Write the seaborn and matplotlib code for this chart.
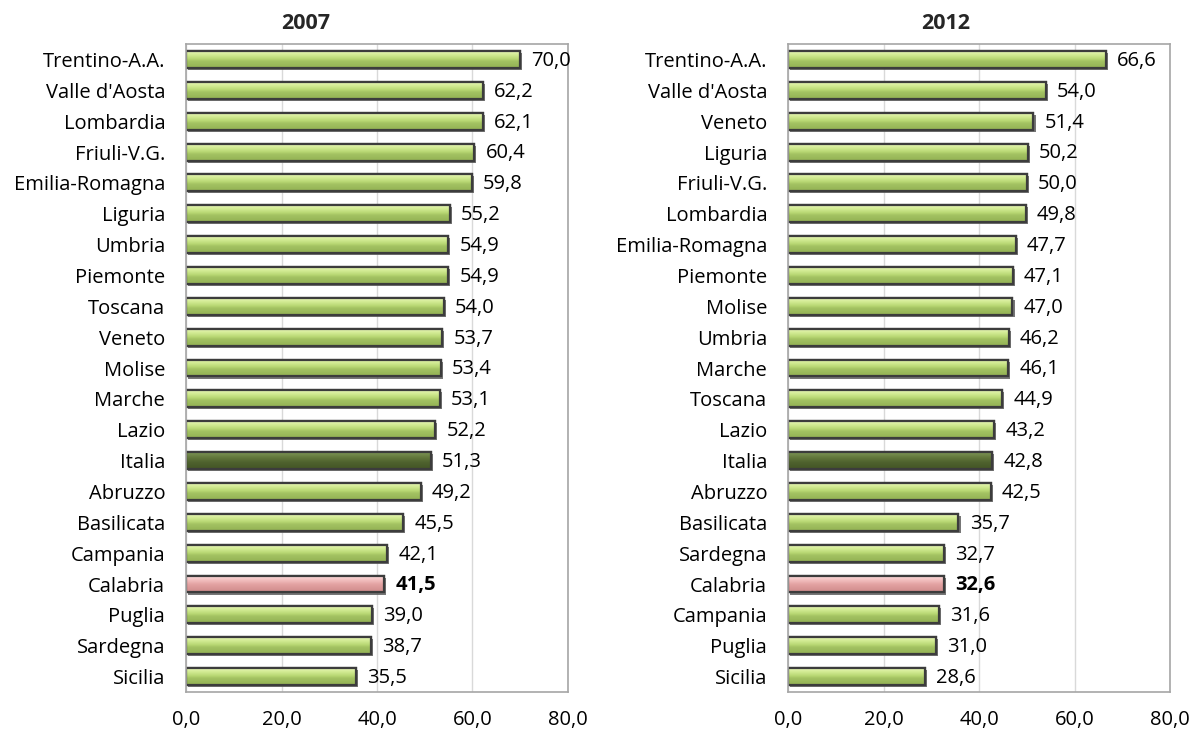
import numpy as np
import pandas as pd
import matplotlib
matplotlib.use("Agg")
import matplotlib.pyplot as plt
import matplotlib.patheffects as pe
from matplotlib.colors import LinearSegmentedColormap
import seaborn as sns

# Regions and values, 2007
regions_2007 = ["Trentino-A.A.", "Valle d'Aosta", "Lombardia", "Friuli-V.G.", "Emilia-Romagna",
                "Liguria", "Umbria", "Piemonte", "Toscana", "Veneto", "Molise", "Marche",
                "Lazio", "Italia", "Abruzzo", "Basilicata", "Campania", "Calabria",
                "Puglia", "Sardegna", "Sicilia"]
values_2007 = [70.0, 62.2, 62.1, 60.4, 59.8, 55.2, 54.9, 54.9, 54.0, 53.7, 53.4, 53.1,
               52.2, 51.3, 49.2, 45.5, 42.1, 41.5, 39.0, 38.7, 35.5]

# Regions and values, 2012
regions_2012 = ["Trentino-A.A.", "Valle d'Aosta", "Veneto", "Liguria", "Friuli-V.G.",
                "Lombardia", "Emilia-Romagna", "Piemonte", "Molise", "Umbria", "Marche",
                "Toscana", "Lazio", "Italia", "Abruzzo", "Basilicata", "Sardegna",
                "Calabria", "Campania", "Puglia", "Sicilia"]
values_2012 = [66.6, 54.0, 51.4, 50.2, 50.0, 49.8, 47.7, 47.1, 47.0, 46.2, 46.1, 44.9,
               43.2, 42.8, 42.5, 35.7, 32.7, 32.6, 31.6, 31.0, 28.6]

years = ["2007", "2012"]
x_ticks = [0, 20, 40, 60, 80]

sns.set_theme(style="white")
plt.rcParams["font.family"] = ["Open Sans", "DejaVu Sans"]
FS = 14.5

# vertical gradients (top -> bottom) for each bar kind
grad_green = LinearSegmentedColormap.from_list(
    "g", [(0.0, "#e6f4b8"), (0.2, "#d4ec95"), (0.45, "#b9d874"), (0.6, "#a3c262"), (1.0, "#93b254")])
grad_dark = LinearSegmentedColormap.from_list(
    "d", [(0.0, "#7e9556"), (0.3, "#64793d"), (0.6, "#4f622e"), (1.0, "#435526")])
grad_pink = LinearSegmentedColormap.from_list(
    "p", [(0.0, "#fde6e6"), (0.25, "#f5c4c4"), (0.55, "#e3a2a2"), (1.0, "#d08b8b")])


def kind_of(name):
    if name == "Italia":
        return "dark"
    if name == "Calabria":
        return "pink"
    return "green"


cmaps = {"green": grad_green, "dark": grad_dark, "pink": grad_pink}

fig = plt.figure(figsize=(11.94, 7.35), dpi=100)
ax_left = fig.add_axes([0.1558, 0.0585, 0.3199, 0.8816])
ax_right = fig.add_axes([0.6600, 0.0585, 0.3199, 0.8816])

grad = np.linspace(0, 1, 64).reshape(-1, 1)

for ax, year, regs, vals in [(ax_left, years[0], regions_2007, values_2007),
                             (ax_right, years[1], regions_2012, values_2012)]:
    df = pd.DataFrame({"region": regs, "value": vals})
    sns.barplot(data=df, x="value", y="region", orient="h", ax=ax,
                color="#a3c262", width=0.55, saturation=1, edgecolor="#3c3c3c",
                linewidth=1.6)
    ax.set_xlim(0, 80)
    ax.set_ylim(len(regs) - 0.5, -0.5)
    for patch, name in zip(ax.patches, regs):
        x0, y0 = patch.get_x(), patch.get_y()
        w, h = patch.get_width(), patch.get_height()
        patch.set_path_effects([pe.SimplePatchShadow(offset=(1.5, -1.5), shadow_rgbFace="#555555",
                                                     alpha=0.8), pe.Normal()])
        im = ax.imshow(grad, cmap=cmaps[kind_of(name)], aspect="auto", origin="upper",
                       extent=(x0, x0 + w, y0 + h, y0), zorder=patch.get_zorder() + 0.1,
                       interpolation="bicubic")
        im.set_clip_path(patch)
        # outline redrawn above the gradient
        ax.add_patch(plt.Rectangle((x0, y0), w, h, fill=False, edgecolor="#3c3c3c",
                                   linewidth=1.6, zorder=patch.get_zorder() + 0.2))
    ax.set_xlim(0, 80)
    ax.set_ylim(len(regs) - 0.5, -0.5)
    for i, (name, v) in enumerate(zip(regs, vals)):
        ax.annotate(f"{v:.1f}".replace(".", ","), xy=(v, i), xytext=(8, -1),
                    textcoords="offset points", va="center", ha="left", fontsize=FS,
                    color="black", fontweight="bold" if name == "Calabria" else "normal")
    ax.set_xticks(x_ticks)
    ax.set_xticklabels([f"{t:.1f}".replace(".", ",") for t in x_ticks])
    ax.grid(axis="x", color="#d9d9d9", linewidth=1.0)
    ax.set_axisbelow(True)
    ax.tick_params(axis="x", length=0, pad=13, labelsize=FS, colors="black")
    ax.tick_params(axis="y", length=0, pad=15, labelsize=FS, colors="black")
    ax.set_xlabel("")
    ax.set_ylabel("")
    for s in ax.spines.values():
        s.set_color("#a6a6a6")
        s.set_linewidth(1.2)

fig.text(0.256, 0.968, years[0], ha="center", va="center", fontsize=15.5, fontweight="bold")
fig.text(0.792, 0.968, years[1], ha="center", va="center", fontsize=15.5, fontweight="bold")

fig.savefig("out.png", dpi=100)
